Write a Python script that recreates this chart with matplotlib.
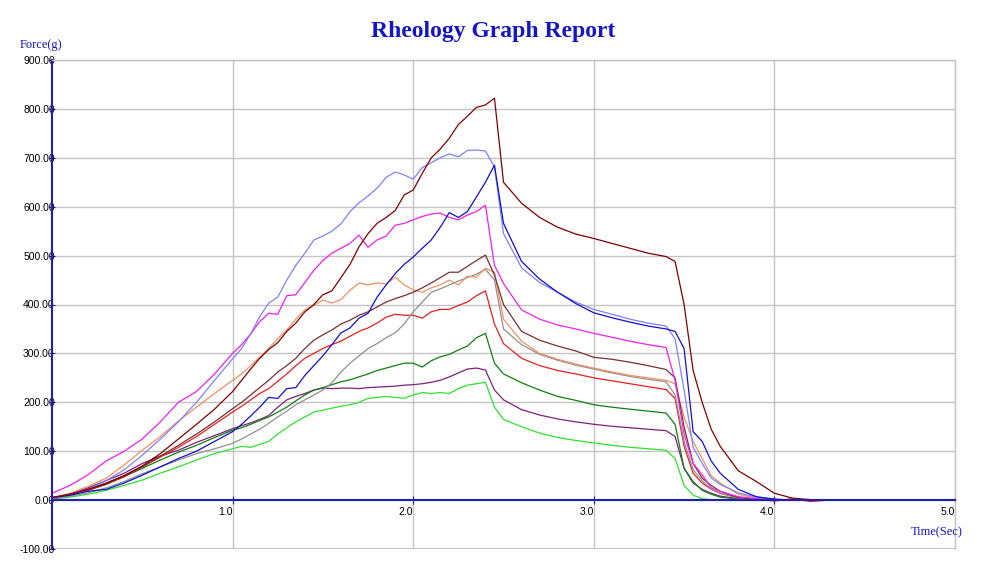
import matplotlib
matplotlib.use("Agg")
import matplotlib.pyplot as plt

# sample times (sec)
t = [0.0, 0.1, 0.2, 0.3, 0.4, 0.5, 0.6, 0.7, 0.8, 0.9,
     1.0, 1.05, 1.1, 1.15, 1.2, 1.25, 1.3, 1.35, 1.4, 1.45,
     1.5, 1.55, 1.6, 1.65, 1.7, 1.75, 1.8, 1.85, 1.9, 1.95,
     2.0, 2.05, 2.1, 2.15, 2.2, 2.25, 2.3, 2.35, 2.4, 2.45,
     2.5, 2.6, 2.7, 2.8, 2.9, 3.0, 3.1, 3.2, 3.3, 3.4,
     3.45, 3.5, 3.55, 3.6, 3.65, 3.7, 3.8, 3.9, 4.0, 4.1,
     4.2, 4.3]

# force (g) of each run
maroon = [5, 12, 22, 34, 50, 70, 95, 125, 155, 186,
          222, 245, 268, 290, 308, 322, 345, 362, 385, 400,
          420, 428, 455, 482, 518, 545, 566, 578, 592, 624,
          634, 668, 700, 718, 740, 768, 785, 803, 808, 822,
          650, 607, 578, 558, 544, 535, 525, 515, 505, 498,
          488, 400, 265, 200, 145, 110, 60, 38, 14, 4,
          1, 0]
light_blue = [5, 10, 22, 40, 62, 92, 125, 160, 200, 245,
              289, 310, 340, 375, 403, 415, 450, 480, 505, 532,
              540, 550, 565, 590, 608, 622, 638, 660, 671, 665,
              656, 680, 690, 700, 708, 702, 715, 716, 714, 681,
              545, 475, 445, 425, 405, 390, 380, 370, 362, 356,
              330, 225, 108, 75, 45, 32, 15, 6, 2, 0,
              0, 0]
blue = [5, 10, 18, 22, 35, 51, 68, 85, 100, 120,
        140, 155, 172, 190, 210, 208, 228, 230, 255, 275,
        295, 318, 342, 352, 372, 382, 415, 440, 463, 482,
        497, 515, 532, 558, 588, 578, 590, 620, 650, 685,
        566, 488, 452, 425, 402, 383, 373, 364, 356, 350,
        345, 310, 140, 120, 80, 55, 22, 7, 2, 0,
        0, 0]
magenta = [14, 30, 52, 80, 100, 125, 160, 200, 222, 258,
           300, 318, 340, 365, 382, 380, 418, 420, 445, 470,
           490, 505, 515, 525, 542, 517, 532, 540, 562, 566,
           573, 580, 585, 587, 578, 573, 583, 590, 603, 480,
           443, 389, 370, 358, 350, 341, 333, 325, 318, 312,
           245, 135, 75, 52, 25, 18, 7, 3, 1, 0,
           0, 0]
brown = [5, 12, 22, 35, 50, 68, 90, 112, 135, 160,
         187, 200, 215, 230, 245, 262, 275, 290, 310, 327,
         338, 348, 360, 368, 378, 385, 395, 405, 412, 418,
         425, 434, 444, 455, 466, 466, 478, 490, 501, 460,
         400, 345, 327, 315, 305, 292, 288, 282, 275, 267,
         250, 150, 75, 45, 30, 18, 5, 2, 0, 0,
         0, 0]
orange = [5, 14, 28, 45, 72, 102, 130, 162, 190, 218,
          245, 258, 275, 292, 310, 330, 348, 370, 389, 398,
          409, 403, 410, 429, 444, 440, 444, 442, 456, 440,
          430, 425, 434, 440, 450, 440, 458, 456, 474, 466,
          370, 325, 300, 288, 278, 270, 262, 255, 250, 245,
          238, 170, 120, 85, 50, 35, 12, 4, 1, 0,
          0, 0]
gray = [3, 8, 15, 25, 38, 54, 68, 82, 95, 105,
        116, 125, 135, 145, 157, 170, 182, 195, 205, 215,
        225, 240, 262, 280, 295, 310, 320, 332, 342, 360,
        385, 405, 425, 432, 440, 448, 455, 462, 472, 450,
        350, 318, 298, 286, 276, 268, 260, 253, 247, 242,
        215, 120, 62, 40, 22, 14, 4, 1, 0, 0,
        0, 0]
red = [3, 10, 20, 33, 48, 68, 88, 108, 130, 155,
       180, 192, 205, 218, 228, 243, 258, 275, 290, 300,
       310, 318, 325, 335, 345, 352, 362, 374, 380, 378,
       378, 372, 385, 390, 390, 398, 405, 418, 428, 360,
       320, 290, 275, 265, 258, 250, 244, 238, 232, 226,
       208, 110, 55, 35, 22, 14, 5, 2, -2, 3,
       -3, 0]
dark_green = [3, 10, 20, 32, 48, 65, 82, 98, 112, 128,
              143, 148, 155, 163, 170, 180, 190, 203, 215, 225,
              230, 236, 242, 246, 252, 258, 265, 270, 275, 280,
              280, 272, 285, 293, 298, 307, 315, 332, 341, 280,
              258, 240, 225, 212, 204, 195, 190, 186, 182, 178,
              155, 65, 38, 20, 12, 6, 2, 0, 0, 0,
              0, 0]
purple = [5, 12, 25, 40, 55, 75, 90, 102, 118, 132,
          146, 152, 158, 165, 173, 190, 205, 212, 218, 225,
          229, 228, 229, 229, 228, 230, 231, 232, 233, 235,
          236, 238, 241, 245, 252, 260, 268, 270, 266, 225,
          205, 185, 174, 166, 160, 155, 151, 148, 145, 142,
          130, 65, 35, 22, 14, 8, 3, 1, 0, 0,
          0, 0]
green = [2, 6, 12, 20, 30, 41, 55, 68, 82, 95,
         105, 110, 108, 114, 120, 135, 148, 160, 170, 180,
         184, 188, 192, 195, 200, 208, 210, 212, 210, 208,
         215, 220, 218, 220, 218, 228, 235, 238, 241, 190,
         165, 150, 137, 128, 122, 117, 112, 108, 105, 102,
         85, 30, 10, 3, 1, 0, 0, 0, 0, 0,
         0, 0]

runs = [
    (green, "#30e030"),
    (purple, "#802080"),
    (dark_green, "#108010"),
    (red, "#e82020"),
    (gray, "#909090"),
    (orange, "#f09060"),
    (brown, "#7a3030"),
    (magenta, "#f020f0"),
    (light_blue, "#8080ff"),
    (blue, "#1010d0"),
    (maroon, "#800000"),
]

axis_blue = "#2020b0"
text_blue = "#1515c8"
grid_gray = "#c4c4c4"

fig = plt.figure(figsize=(9.86, 5.85), dpi=100)
ax = fig.add_axes([52 / 986, 1 - 549 / 585, 903 / 986, 489 / 585])

for vals, col in runs:
    ax.plot(t, vals, color=col, lw=0.9, zorder=2)

ax.set_xlim(0, 5)
ax.set_ylim(-100, 900)
ax.set_xticks([1, 2, 3, 4, 5])
ax.set_xticklabels(["1.0", "2.0", "3.0", "4.0", "5.0"])
ax.set_yticks(range(-100, 901, 100))
ax.set_yticklabels(["%.2f" % v for v in range(-100, 901, 100)])
ax.grid(True, color=grid_gray, lw=1, zorder=0)

ax.spines["bottom"].set_position(("data", 0))
ax.spines["bottom"].set_color(axis_blue)
ax.spines["bottom"].set_linewidth(1.5)
ax.spines["left"].set_color(axis_blue)
ax.spines["left"].set_linewidth(1.5)
for s in ["top", "right"]:
    ax.spines[s].set_color(grid_gray)
    ax.spines[s].set_linewidth(1)
ax.axhline(-100, color=grid_gray, lw=1.5, zorder=1)

ax.tick_params(axis="x", direction="inout", length=6, color=axis_blue,
               labelsize=7.5, pad=2, labelfontfamily="Liberation Sans")
ax.tick_params(axis="y", direction="inout", length=4, color=axis_blue,
               labelsize=7.5, pad=-4, labelfontfamily="Liberation Sans")
for lab in ax.get_xticklabels():
    lab.set_ha("right")
for lab in ax.get_yticklabels():
    lab.set_ha("right")

fig.text(0.5, 1 - 31 / 585, "Rheology Graph Report", ha="center", va="center",
         fontsize=17, fontweight="bold", family="Liberation Serif", color=text_blue)
fig.text(20 / 986, 1 - 45 / 585, "Force(g)", ha="left", va="center",
         fontsize=9, family="Liberation Serif", color=text_blue)
fig.text(963 / 986, 1 - 532 / 585, "Time(Sec)", ha="right", va="center",
         fontsize=9, family="Liberation Serif", color=text_blue)

fig.savefig("out.png", dpi=100)
